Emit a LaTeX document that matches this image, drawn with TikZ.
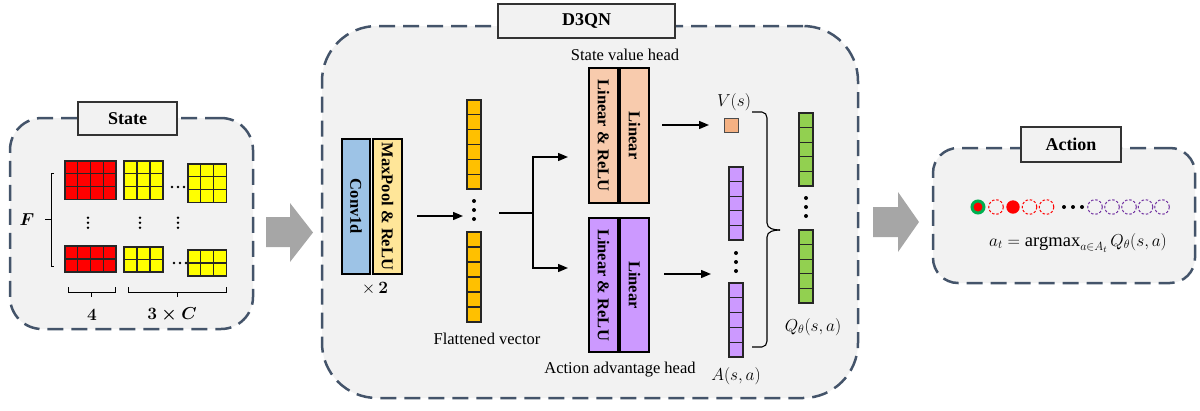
\documentclass[tikz,border=0pt]{standalone}
\usepackage{amsmath}
\usepackage{fontspec}
\setmainfont{Liberation Serif}
\usetikzlibrary{arrows.meta}

\definecolor{panelbg}{HTML}{F2F2F2}
\definecolor{paneledge}{HTML}{44546A}
\definecolor{cellred}{HTML}{FF0000}
\definecolor{cellyellow}{HTML}{FFFF00}
\definecolor{convblue}{HTML}{9DC3E6}
\definecolor{poolyellow}{HTML}{FFE699}
\definecolor{flatorange}{HTML}{FFC000}
\definecolor{valuepeach}{HTML}{F8CBAD}
\definecolor{valuesq}{HTML}{F4B183}
\definecolor{advpurple}{HTML}{CC99FF}
\definecolor{qgreen}{HTML}{92D050}
\definecolor{blockgray}{HTML}{A6A6A6}
\definecolor{ringgreen}{HTML}{00B050}
\definecolor{actpurple}{HTML}{7030A0}

\newcommand\figbody{\fontsize{16.5}{19}\selectfont}
\newcommand\figmath{\fontsize{17.28}{20}\selectfont}
\newcommand\figformula{\fontsize{18.5}{22}\selectfont}
\newcommand\figtitle{\fontsize{18}{21}\selectfont\bfseries}

% grid of cells: x0 y0 cols rows cellw cellh colour
\newcommand\cellgrid[7]{%
  \foreach \i in {1,...,#3}{\foreach \j in {1,...,#4}{%
    \draw[cell,fill=#7] ({#1+(\i-1)*#5},{#2+(\j-1)*#6}) rectangle ++(#5,#6);}}}
% vertical stack of cells: x0 y0 n cellw cellh colour
\newcommand\cellcol[6]{%
  \foreach \j in {1,...,#3}{%
    \draw[cell,fill=#6] (#1,{#2+(\j-1)*#5}) rectangle ++(#4,#5);}}

\begin{document}
\begin{tikzpicture}[x=1pt,y=-1pt,
  panel/.style={draw=paneledge,fill=panelbg,line width=2.5pt,dash pattern=on 16pt off 8pt},
  titlebox/.style={draw=black!80,fill=panelbg,line width=1.2pt,font=\figtitle,inner sep=0pt},
  cell/.style={draw=black!85,line width=1.2pt},
  layer/.style={draw=black,line width=2.3pt,rotate=-90,inner sep=0pt,font=\figbody\bfseries},
  lbl/.style={font=\figbody,inner sep=0pt},
  mlbl/.style={font=\figmath,inner sep=0pt},
  arr/.style={line width=1.4pt,-{Triangle[length=10pt,width=8pt]}},
  blockarrow/.style={fill=blockgray},
  dot/.style={fill=black},
  dashring/.style={line width=1pt,dash pattern=on 2.5pt off 1.8pt}
]
\useasboundingbox (0,0) rectangle (1200,410);

% ---------------- State panel ----------------
\node[panel,rounded corners=32pt,minimum width=243,minimum height=211] (statep) at (131.5,223.5) {};
\node[titlebox,minimum width=99,minimum height=33] (statet) at (127.5,118.5) {State};

\cellgrid{65}{161}{4}{3}{12.75}{12.7}{cellred}
\cellgrid{124}{161}{3}{3}{13}{12.7}{cellyellow}
\cellgrid{188}{164}{3}{3}{12.7}{12.7}{cellyellow}
\cellgrid{65}{246}{4}{2}{12.75}{13}{cellred}
\cellgrid{124}{247}{3}{2}{13}{12.5}{cellyellow}
\cellgrid{188}{250}{3}{2}{12.7}{13}{cellyellow}

% horizontal ellipses
\foreach \x in {172,178,184} \fill[dot] (\x,187) circle (1.3);
\foreach \x in {174,180,186} \fill[dot] (\x,263) circle (1.3);
% vertical ellipses
\foreach \x in {88,140,178}{
  \foreach \y in {217.7,222.7,227.7}{\fill[dot] (\x,\y) circle (1.3);}}

% feature bracket
\draw[line width=1pt] (54,173) -- (51,173) -- (51,266) -- (54,266);
\draw[line width=1pt] (45,219.5) -- (51,219.5);
\node[mlbl] (flabel) at (27,219.5) {$\boldsymbol{F}$};

% bottom braces
\draw[line width=1pt] (68,287) -- (68,292) -- (115,292) -- (115,287);
\draw[line width=1pt] (91.5,292) -- (91.5,297);
\draw[line width=1pt] (128,287) -- (128,292) -- (226,292) -- (226,287);
\draw[line width=1pt] (177,292) -- (177,297);
\node[mlbl] (fourlbl) at (92,315) {$\boldsymbol{4}$};
\node[mlbl] (chanlbl) at (172,315) {$\boldsymbol{3\times C}$};

% ---------------- block arrow into network ----------------
\fill[blockarrow] (266,217) -- (290,217) -- (290,203) -- (313,232.5) -- (290,262) -- (290,247) -- (266,247) -- cycle;

% ---------------- D3QN panel ----------------
\node[panel,rounded corners=55pt,minimum width=536,minimum height=372] (netp) at (590,212) {};
\node[titlebox,minimum width=177,minimum height=34] (nett) at (586.5,21) {D3QN};

% feature extractor
\node[layer,fill=convblue,minimum width=135,minimum height=28] (conv) at (356,206.5) {Conv1d};
\node[layer,fill=poolyellow,minimum width=135,minimum height=29] (pool) at (387.5,206.5) {MaxPool \& ReLU};
\node[mlbl] (times2) at (375,289) {$\times\,\boldsymbol{2}$};

% flattened vector
\cellcol{467}{100}{6}{14}{14.83}{flatorange}
\cellcol{467}{232}{6}{14}{15}{flatorange}
\foreach \y in {201,210,219} \fill[dot] (474,\y) circle (2);
\node[lbl] (flatlbl) at (487,339) {Flattened vector};

\coordinate (fvin) at (463,216);
\coordinate (fvfrom) at (417,216);
\draw[arr] (fvfrom) -- (fvin);

% branching to the two heads
\coordinate (fvout) at (499,213);
\coordinate (split) at (533,213);
\coordinate (vin) at (568,157);
\coordinate (ain) at (568,268);
\draw[line width=1.4pt] (fvout) -- (split);
\draw[arr] (split) |- (vin);
\draw[arr] (split) |- (ain);

% value head
\node[lbl] (vheadlbl) at (625,55) {State value head};
\node[layer,fill=valuepeach,minimum width=135,minimum height=29] (vlr) at (603.5,135.5) {Linear \& ReLU};
\node[layer,fill=valuepeach,minimum width=135,minimum height=29] (vlin) at (634.5,135.5) {Linear};

% advantage head
\node[layer,fill=advpurple,minimum width=134,minimum height=29] (alr) at (603.5,285) {Linear \& ReLU};
\node[layer,fill=advpurple,minimum width=134,minimum height=29] (alin) at (634.5,285) {Linear};
\node[lbl] (aheadlbl) at (620,370) {Action advantage head};

% head outputs
\coordinate (vfrom) at (662,125);
\coordinate (vto) at (709,125);
\draw[arr] (vfrom) -- (vto);
\node[draw=black!70,line width=1pt,fill=valuesq,minimum size=14,inner sep=0pt] (vsq) at (731,125) {};
\node[mlbl] (vlbl) at (734,102) {$V(s)$};

\coordinate (afrom) at (664,274);
\coordinate (ato) at (711,274);
\draw[arr] (afrom) -- (ato);
\cellcol{729}{167}{5}{14}{14.6}{advpurple}
\cellcol{729}{283}{5}{14}{14.8}{advpurple}
\foreach \y in {253,262,271} \fill[dot] (736,\y) circle (2);
\node[mlbl] (albl) at (736,376) {$A(s,a)$};

% aggregation brace
\draw[line width=1.1pt] (752,112) -- (762,112) to[out=0,in=90] (767,118) -- (767,223)
  to[out=-90,in=180] (780,230);
\draw[line width=1.1pt] (780,230) to[out=180,in=90] (767,237) -- (767,341)
  to[out=-90,in=0] (762,347) -- (752,347);

% Q values
\cellcol{799}{113}{5}{14}{14.6}{qgreen}
\cellcol{799}{230}{5}{14}{14.6}{qgreen}
\foreach \y in {198,207,216} \fill[dot] (806,\y) circle (2);
\node[mlbl] (qlbl) at (813,327) {$Q_\theta(s,a)$};

% ---------------- block arrow into action ----------------
\fill[blockarrow] (873,207) -- (898,207) -- (898,192) -- (919,222) -- (898,252) -- (898,237) -- (873,237) -- cycle;

% ---------------- Action panel ----------------
\node[panel,rounded corners=25pt,minimum width=262,minimum height=135] (actp) at (1064,215.5) {};
\node[titlebox,minimum width=100,minimum height=35] (actt) at (1071,144.5) {Action};

\draw[draw=ringgreen,line width=3pt,fill=cellred] (978,207) circle (6);
\draw[draw=cellred,dashring] (996,207) circle (7.3);
\fill[cellred] (1013,207) circle (6.7);
\draw[draw=cellred,dashring] (1029.5,207) circle (7.3);
\draw[draw=cellred,dashring] (1046.5,207) circle (7.3);
\foreach \x in {1064,1073,1082} \fill[dot] (\x,207) circle (2);
\foreach \x in {1095,1112,1129,1145.5,1162} \draw[draw=actpurple,dashring] (\x,207) circle (7.3);

\node[font=\figformula,inner sep=0pt] (policy) at (1078,243) {$a_t=\mathrm{argmax}_{a\in A_t}\,Q_\theta(s,a)$};
\end{tikzpicture}
\end{document}
